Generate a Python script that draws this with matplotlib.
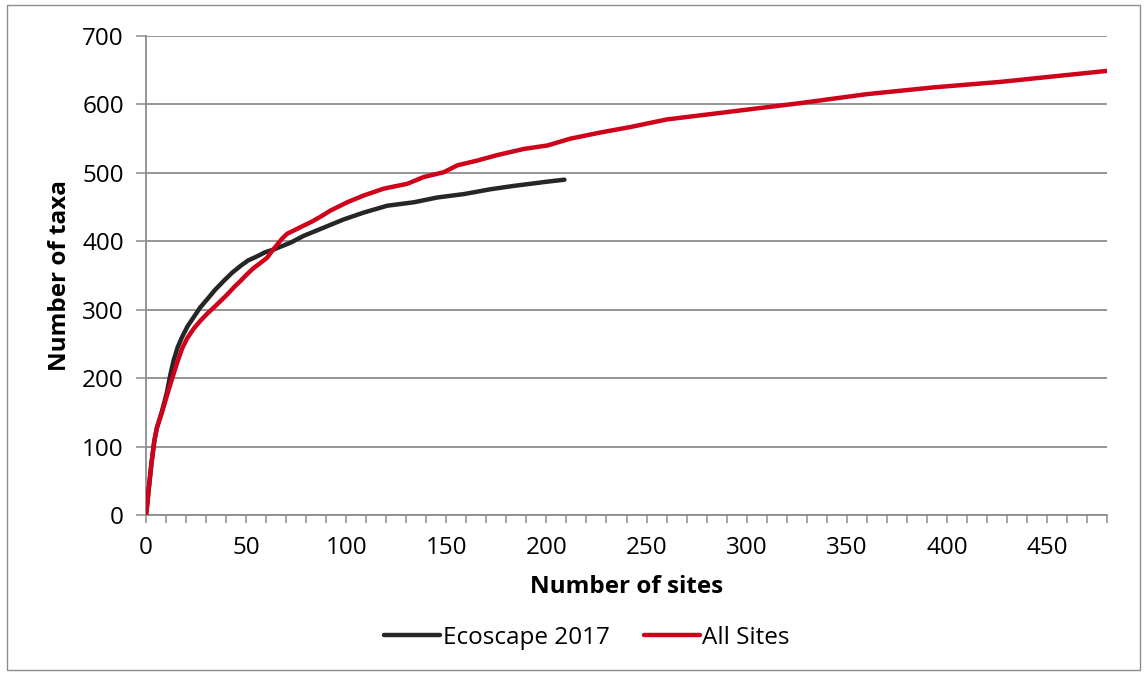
import matplotlib
matplotlib.use("Agg")
import matplotlib.pyplot as plt
from matplotlib.patches import Rectangle
from matplotlib.ticker import MultipleLocator

plt.rcParams['font.family'] = ['Open Sans', 'DejaVu Sans']

# Species accumulation: cumulative number of taxa vs. number of sites sampled
eco_sites = [0, 0.5, 1.3, 2.7, 4.2, 5.5, 8, 10.5, 12, 13.8, 15.8, 18, 20.8, 23.8, 27,
             30.5, 34.5, 38.8, 43, 47.2, 51, 55.5, 59.5, 63.8, 68, 72.2, 78.8, 88.8,
             98.8, 108.8, 120.5, 133.8, 145.5, 158.8, 172, 183.8, 192, 200, 209]
eco_taxa = [0, 12, 36, 75, 109, 128, 152, 180, 203, 226, 245, 260, 276, 289, 303,
            315, 329, 342, 354, 364, 372, 378, 384, 388, 393, 398, 408, 420,
            432, 442, 452, 457, 464, 469, 476, 481, 484, 487, 490]

all_sites = [0, 0.5, 1.3, 2.7, 4.2, 5.5, 8, 10.5, 13, 15.5, 18, 20.5, 24, 27.2, 30.5,
             33.8, 37, 40.5, 44, 47.2, 50.5, 53.8, 57, 60.5, 63, 65.5, 68, 70.5, 74,
             78.8, 83, 87.2, 92.2, 100.5, 108.8, 118.8, 130.5, 138.8, 148.8, 155.5,
             165.5, 175.5, 188.8, 200.5, 212, 227, 242, 260, 293.5, 327, 360, 393.7,
             427, 460, 480]
all_taxa = [0, 12, 36, 75, 109, 128, 150, 175, 199, 222, 243, 258, 273, 284, 294,
            303, 312, 322, 333, 342, 352, 361, 368, 376, 386, 395, 404, 411, 416,
            423, 429, 436, 445, 457, 467, 477, 484, 494, 501, 511,
            518, 526, 535, 540, 550, 559, 567, 578, 590, 602, 615, 625,
            633, 643, 649]

series_labels = ["Ecoscape 2017", "All Sites"]

W, H = 1148, 675
fig = plt.figure(figsize=(W / 100, H / 100), dpi=100)
ax = fig.add_axes([146 / W, 1 - 515 / H, 961 / W, 479 / H])

grid_c = '#8c8c8c'
ax.plot(eco_sites, eco_taxa, color='#262626', lw=3.2, solid_capstyle='round',
        solid_joinstyle='round', label=series_labels[0], zorder=3)
ax.plot(all_sites, all_taxa, color='#d0011b', lw=3.2, solid_capstyle='round',
        solid_joinstyle='round', label=series_labels[1], zorder=4)

ax.set_xlim(0, 480)
ax.set_ylim(0, 700)
ax.xaxis.set_major_locator(MultipleLocator(50))
ax.xaxis.set_minor_locator(MultipleLocator(10))
ax.yaxis.set_major_locator(MultipleLocator(100))

ax.grid(axis='y', color=grid_c, lw=1.3)
ax.set_axisbelow(True)
for s in ['top', 'right']:
    ax.spines[s].set_visible(False)
for s in ['left', 'bottom']:
    ax.spines[s].set_color(grid_c)
    ax.spines[s].set_linewidth(1.3)

fs = 17.5
ax.tick_params(axis='x', which='both', direction='out', length=6, width=1.1,
               color=grid_c, labelsize=fs, pad=9)
ax.tick_params(axis='y', which='major', direction='out', length=7, width=1.1,
               color=grid_c, labelsize=fs, pad=9)

ax.set_xlabel("Number of sites", fontsize=fs, fontweight='bold', labelpad=11)
ax.set_ylabel("Number of taxa", fontsize=fs, fontweight='bold', labelpad=7)

fig.legend(loc='center', bbox_to_anchor=(587 / W, 1 - 638 / H), ncol=2,
           frameon=False, fontsize=fs, handlelength=2.3, handletextpad=0.1,
           columnspacing=1.4)

fig.patches.append(Rectangle((7 / W, 1 - 670 / H), 1133 / W, 665 / H,
                             transform=fig.transFigure, fill=False,
                             edgecolor='#8c8c8c', lw=1.0))

fig.savefig("out.png", dpi=100)
